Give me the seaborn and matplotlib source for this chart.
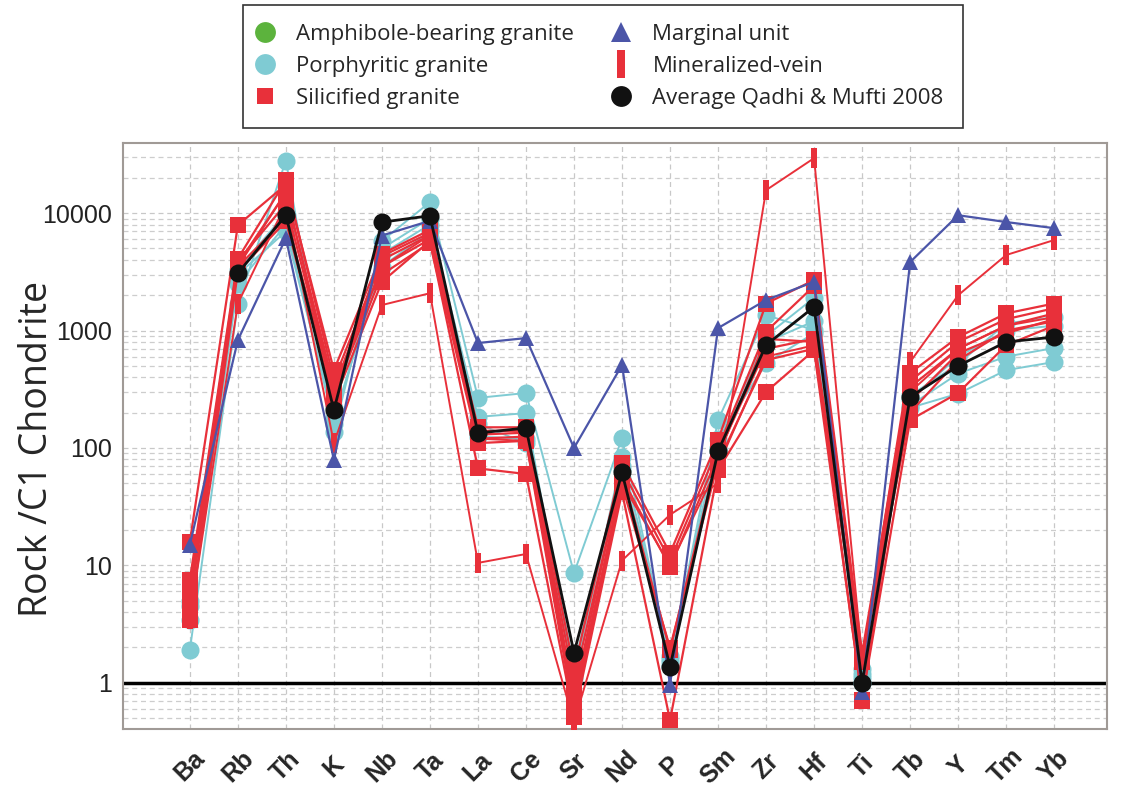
import numpy as np
import pandas as pd
import matplotlib
matplotlib.use("Agg")
import matplotlib.pyplot as plt
import seaborn as sns
from matplotlib.lines import Line2D
from matplotlib.ticker import LogLocator, FixedLocator, NullFormatter

elements = ["Ba", "Rb", "Th", "K", "Nb", "Ta", "La", "Ce", "Sr", "Nd",
            "P", "Sm", "Zr", "Hf", "Ti", "Tb", "Y", "Tm", "Yb"]

# Porphyritic granite samples (cyan circles)
porphyritic = [
    [1.9, 1700, 28000, 137, 5800, 12400, 267, 294, 8.6, 121, 1.5, 173, 1355, 1010, 1.2, 230, 430, 600, 710],
    [3.4, 2500, 8000, 160, 4500, 8000, 184, 198, 1.1, 84, 1.7, 120, 530, 950, 1.3, 220, 290, 460, 540],
    [5.0, 3000, 7000, 180, 3500, 7000, 160, 110, 1.2, 70, 1.6, 100, 900, 1900, 1.1, 260, 600, 1000, 1100],
    [4.5, 3300, 10000, 220, 5000, 9000, 125, 120, 1.4, 65, 1.4, 95, 800, 1200, 1.0, 280, 520, 1150, 1300],
]

# Silicified granite samples (red squares)
silicified = [
    [15.9, 7900, 17500, 460, 4500, 7200, 150, 150, 1.3, 74, 12.7, 117, 1700, 2690, 1.8, 435, 880, 1400, 1700],
    [7.5, 4100, 19000, 380, 4000, 6500, 140, 140, 0.76, 65, 11, 100, 980, 2400, 1.6, 370, 800, 1250, 1550],
    [5.5, 3700, 15000, 330, 3500, 6000, 120, 125, 0.6, 55, 9.7, 85, 850, 800, 0.7, 330, 700, 1100, 1400],
    [4.5, 3500, 9000, 290, 3000, 5600, 110, 115, 0.55, 48, 1.99, 75, 560, 700, 1.5, 250, 640, 950, 1250],
    [3.4, 3200, 8500, 250, 2600, 5800, 67, 60, 0.51, 42, 0.48, 65, 300, 680, 0.72, 173, 294, 750, 1100],
    [6.5, 3900, 12000, 300, 4300, 6800, 130, 135, 1.0, 60, 1.9, 90, 700, 850, 1.6, 200, 560, 1000, 1200],
]

# Mineralized-vein samples (thin red bars)
vein = [
    [3.5, 1700, 12000, 110, 1650, 2080, 10.5, 12.5, 0.46, 11, 27, 50, 15700, 29400, 1.6, 540, 2000, 4400, 5900],
    [5.0, 3500, 15000, 300, 3500, 6500, 120, 115, 0.7, 50, 10, 70, 600, 750, 1.7, 300, 700, 1100, 1300],
]

# Marginal unit (blue triangles)
marginal = [
    [15, 830, 6130, 79, 6450, 8600, 783, 863, 100, 508, 0.96, 1050, 1820, 2600, 0.84, 3830, 9600, 8400, 7450],
]

# Average Qadhi & Mufti 2008 (black circles)
average = [
    [np.nan, 3080, 9600, 210, 8380, 9500, 134, 148, 1.8, 62, 1.37, 94, 753, 1590, 1.0, 272, 500, 800, 880],
]

bar_marker = [(-0.3, -1), (0.3, -1), (0.3, 1), (-0.3, 1), (-0.3, -1)]

groups = [
    ("Porphyritic granite", porphyritic, "#7fcbd3", "o", 13, 1.4),
    ("Silicified granite", silicified, "#e8303a", "s", 11.5, 1.6),
    ("Mineralized-vein", vein, "#e8303a", bar_marker, 14, 1.4),
    ("Marginal unit", marginal, "#4b55a8", "^", 12, 1.6),
    ("Average Qadhi & Mufti 2008", average, "#111111", "o", 13, 2.0),
]

rows = []
for name, samples, *_ in groups:
    for i, vals in enumerate(samples):
        for pos, v in enumerate(vals):
            rows.append({"group": name, "sample": f"{name}-{i}", "pos": pos, "value": v})
df = pd.DataFrame(rows)

sns.set_theme(style="white")
fig = plt.figure(figsize=(11.25, 7.87), dpi=100)
ax = fig.add_axes([0.109, 0.074, 0.875, 0.744])

for z, (name, samples, color, marker, ms, lw) in enumerate(groups):
    sub = df[df["group"] == name]
    sns.lineplot(data=sub, x="pos", y="value", units="sample", estimator=None,
                 sort=False, color=color, marker=marker, markersize=ms,
                 markeredgewidth=0, markeredgecolor=color, linewidth=lw,
                 legend=False, ax=ax, zorder=3 + z)

ax.set_yscale("log")
ax.set_ylim(0.406, 39400)
ax.set_xlim(-1.4, 19.1)

ax.axhline(1, color="black", lw=2.5, zorder=2)

ax.yaxis.set_major_locator(FixedLocator([1, 10, 100, 1000, 10000]))
ax.set_yticklabels(["1", "10", "100", "1000", "10000"],
                   fontsize=18, family="Liberation Sans", color="#222222")
ax.yaxis.set_minor_locator(LogLocator(base=10, subs=np.arange(2, 10)))
ax.yaxis.set_minor_formatter(NullFormatter())

ax.set_xticks(range(len(elements)))
ax.set_xticklabels(elements, rotation=45, ha="center", va="center",
                   rotation_mode="anchor", fontsize=18, fontweight="bold",
                   family="Liberation Sans")
ax.tick_params(axis="x", pad=27, length=0)
ax.tick_params(axis="y", which="both", length=0, pad=8)

ax.grid(True, which="major", axis="both", ls=(0, (4, 3)), color="#c8c8c8", lw=0.9)
ax.grid(True, which="minor", axis="y", ls=(0, (4, 3)), color="#cdcdcd", lw=0.9)
ax.set_axisbelow(True)

for sp in ax.spines.values():
    sp.set_color("#a09a96")
    sp.set_linewidth(1.5)

ax.set_xlabel("")
ax.set_ylabel("Rock /C1 Chondrite", fontsize=27, family="Open Sans", va="center")
ax.yaxis.set_label_coords(-0.087, 0.478)

handles = [
    Line2D([], [], ls="none", marker="o", ms=15, color="#5cb33d", mew=0, label="Amphibole-bearing granite"),
    Line2D([], [], ls="none", marker="o", ms=15, color="#7fcbd3", mew=0, label="Porphyritic granite"),
    Line2D([], [], ls="none", marker="s", ms=12, color="#e8303a", mew=0, label="Silicified granite"),
    Line2D([], [], ls="none", marker="^", ms=14, color="#4b55a8", mew=0, label="Marginal unit"),
    Line2D([], [], ls="none", marker=bar_marker, ms=20, color="#e8303a", mew=0, label="Mineralized-vein"),
    Line2D([], [], ls="none", marker="o", ms=15, color="#111111", mew=0, label="Average Qadhi & Mufti 2008"),
]
leg = fig.legend(handles=handles, ncol=2, loc="upper left",
                 bbox_to_anchor=(0.216, 0.9936),
                 frameon=True, fancybox=False, edgecolor="black",
                 prop={"family": "Open Sans", "size": 16},
                 labelspacing=0.5, handlelength=0.3,
                 handletextpad=1.25, columnspacing=1.97,
                 borderpad=0.85, borderaxespad=0)
leg.get_frame().set_linewidth(1.2)

fig.savefig("out.png", dpi=100)
